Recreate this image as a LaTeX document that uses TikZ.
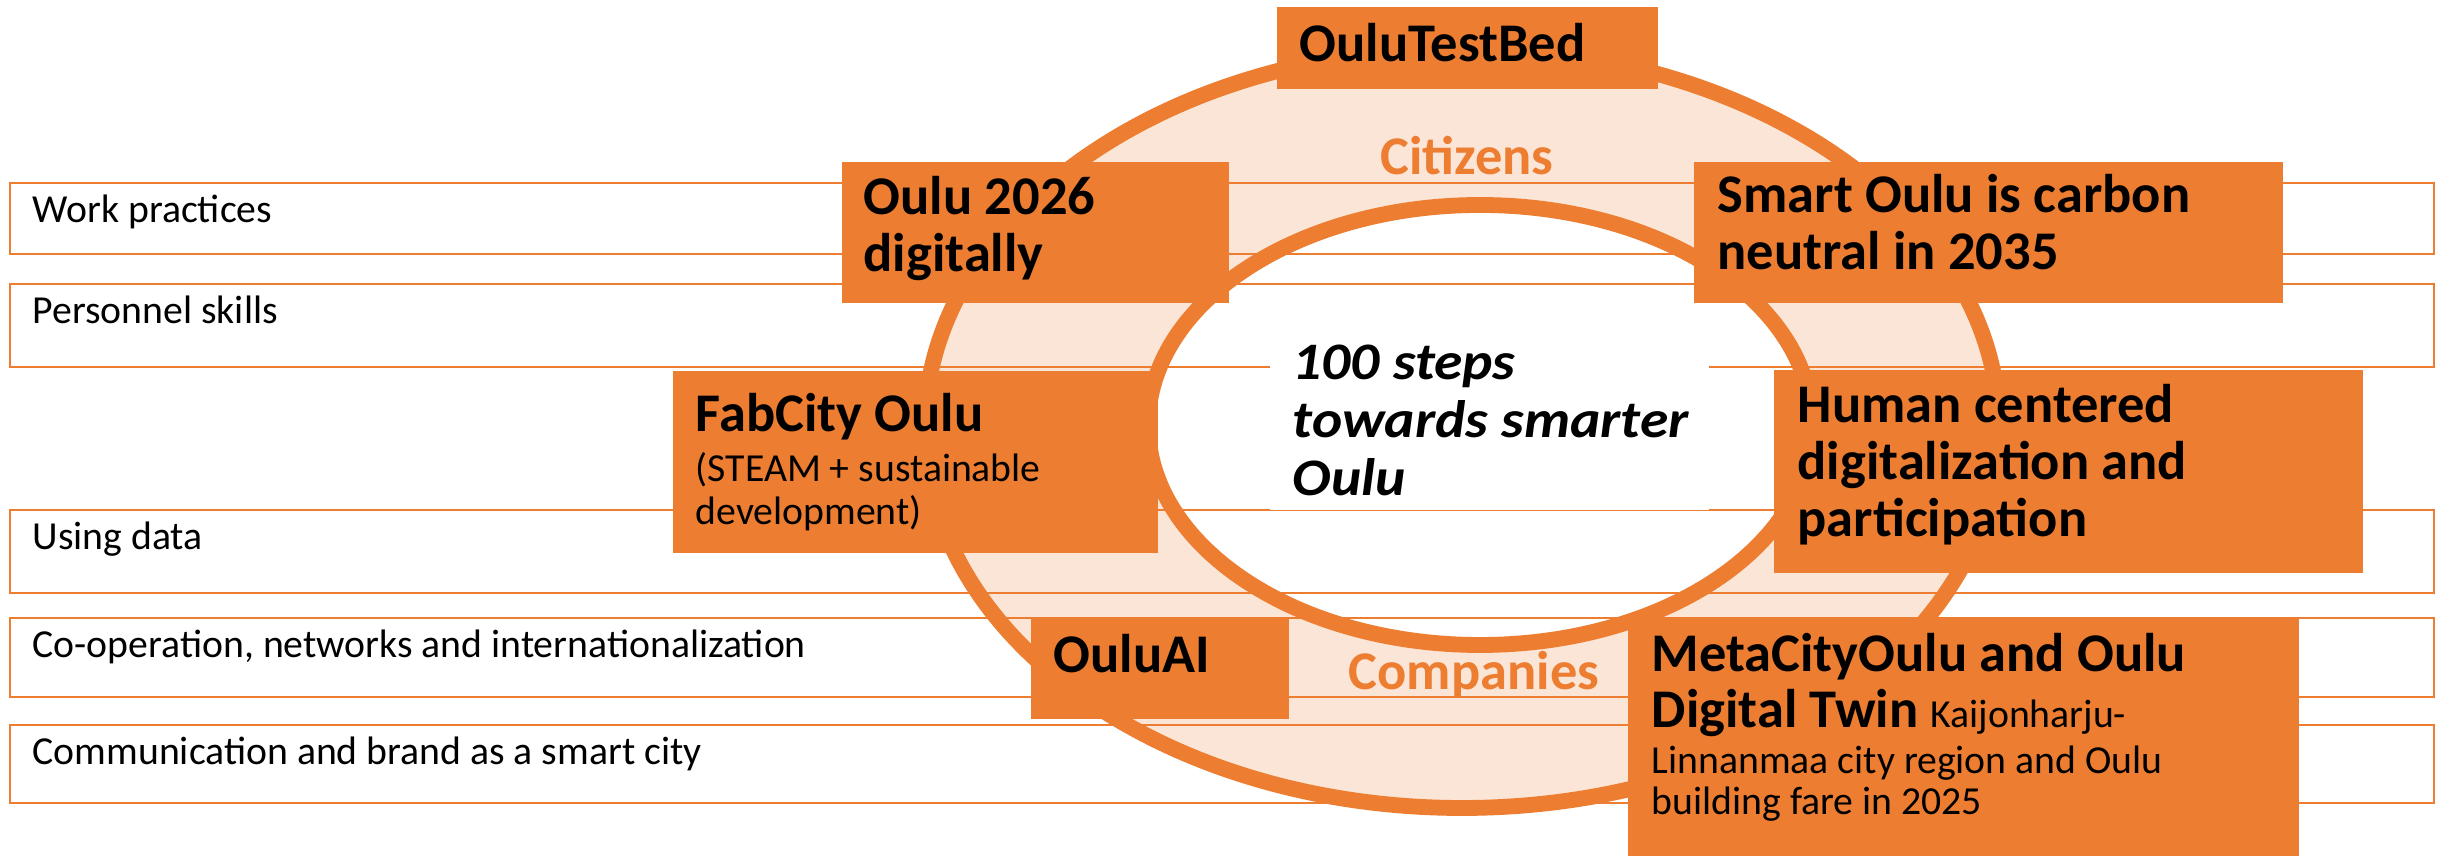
\documentclass[tikz,border=0pt]{standalone}
\usepackage{fontspec}
\setmainfont{Carlito}
\newfontfamily\stepsfont[FakeStretch=1.09]{Carlito}
\usepackage{tikz}
\usetikzlibrary{positioning}
\definecolor{oulu}{HTML}{ED7D31}
\definecolor{oulupale}{HTML}{FBE5D6}

\begin{document}
\begin{tikzpicture}
	[ring/.style={draw=oulu,line width=4.5pt},
	bar/.style={draw=oulu,line width=0.8pt},
	bartext/.style={anchor=base west,inner sep=0pt,font=\fontsize{11.3}{12}\selectfont},
	goalbox/.style={fill=oulu},
	goal/.style={anchor=base west,inner sep=0pt,align=flush left,
		font=\bfseries\fontsize{15.5}{16.2}\selectfont},
	who/.style={anchor=base,inner sep=0pt,text=oulu,
		font=\bfseries\fontsize{15.5}{16.2}\selectfont}]
	\useasboundingbox (0,0) rectangle (24.46,8.58);
	% the ring: citizens above, companies below
	\draw[ring,fill=oulupale] (14.62,4.30) ellipse [x radius=5.37,y radius=3.80];
	\draw[ring,fill=white] (14.80,4.33) ellipse [x radius=3.32,y radius=2.20];
	\node[who] (citizens) at (14.67,6.83) {Citizens};
	\node[who] (companies) at (14.74,1.68) {Companies};
	% the five bars
	\draw[bar] (0.10,6.75) rectangle (24.34,6.04);
	\draw[bar] (0.10,5.74) rectangle (24.34,4.91);
	\draw[bar] (0.10,3.48) rectangle (24.34,2.65);
	\draw[bar] (0.10,2.40) rectangle (24.34,1.61);
	\draw[bar] (0.10,1.33) rectangle (24.34,0.55);
	\node[bartext] (work) at (0.32,6.35) {Work practices};
	\node[bartext] (skills) at (0.32,5.34) {Personnel skills};
	\node[bartext] (data) at (0.32,3.08) {Using data};
	\node[bartext] (coop) at (0.32,2.00) {Co-operation, networks and internationalization};
	\node[bartext] (brand) at (0.32,0.93) {Communication and brand as a smart city};
	% middle text
	\fill[white] (12.70,5.48) rectangle (17.09,3.48);
	\node[anchor=base west,inner sep=0pt,align=flush left,text width=4.3cm,
		font=\stepsfont\bfseries\itshape\fontsize{15}{16.4}\selectfont] (steps) at (12.92,4.78)
		{100 steps\\towards smarter\\Oulu};
	% orange goal boxes
	\fill[goalbox] (12.77,8.51) rectangle (16.58,7.69);
	\node[goal,text width=3.6cm] (testbed) at (12.99,7.96) {OuluTestBed};
	\fill[goalbox] (8.42,6.96) rectangle (12.29,5.55);
	\node[goal,text width=3.6cm] (oulu2026) at (8.63,6.43) {Oulu 2026\\digitally};
	\fill[goalbox] (16.94,6.96) rectangle (22.83,5.55);
	\node[goal,text width=5.6cm] (carbon) at (17.17,6.45) {Smart Oulu is carbon\\neutral in 2035};
	\fill[goalbox] (6.73,4.87) rectangle (11.58,3.05);
	\node[goal,text width=4.6cm] (fabcity) at (6.95,4.26)
		{FabCity Oulu\\[2pt]{\mdseries\fontsize{11.3}{12.2}\selectfont (STEAM + sustainable\\development)\par}};
	\fill[goalbox] (17.74,4.88) rectangle (23.63,2.85);
	\node[goal,text width=5.6cm] (human) at (17.97,4.35) {Human centered\\digitalization and\\participation};
	\fill[goalbox] (10.31,2.40) rectangle (12.89,1.39);
	\node[goal,text width=2.4cm] (ouluai) at (10.53,1.85) {OuluAI};
	\fill[goalbox] (16.28,2.41) rectangle (22.99,0.02);
	\node[goal,text width=6.4cm] (metacity) at (16.51,1.86)
		{MetaCityOulu and Oulu\\[1.5pt]Digital Twin {\mdseries\fontsize{11.3}{11.4}\selectfont Kaijonharju-\\[1.8pt]Linnanmaa city region and Oulu\\building fare in 2025\par}};
\end{tikzpicture}
\end{document}
